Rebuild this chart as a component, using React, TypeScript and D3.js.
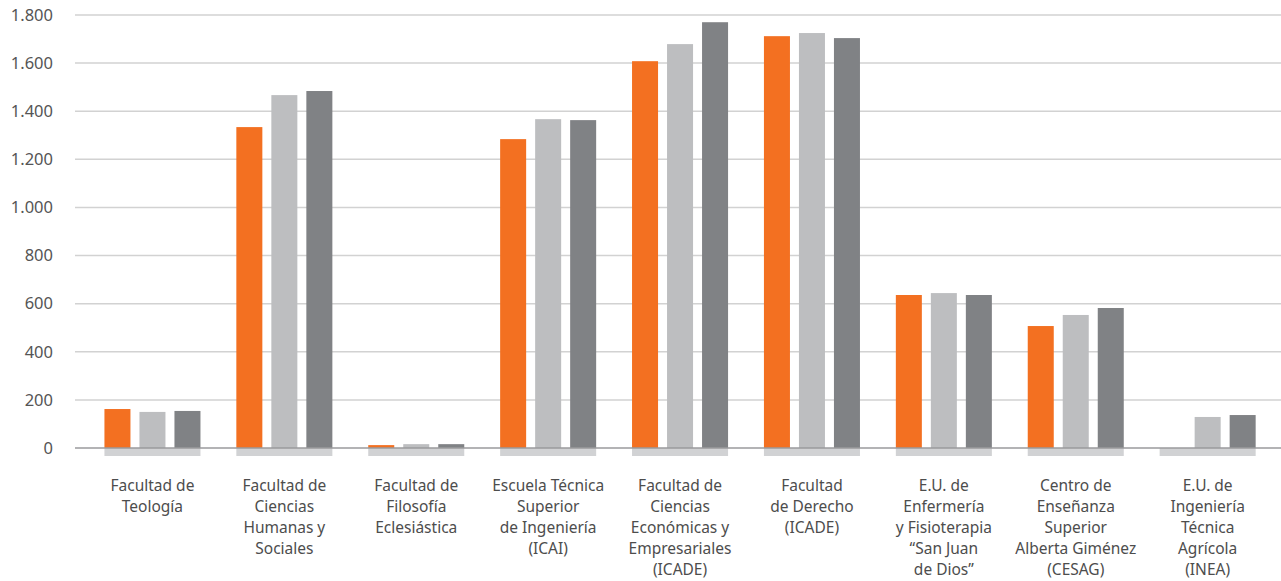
import { useEffect, useRef } from 'react';
import * as d3 from 'd3';

const categories = [
  ['Facultad de', 'Teología'],
  ['Facultad de', 'Ciencias', 'Humanas y', 'Sociales'],
  ['Facultad de', 'Filosofía', 'Eclesiástica'],
  ['Escuela Técnica', 'Superior', 'de Ingeniería', '(ICAI)'],
  ['Facultad de', 'Ciencias', 'Económicas y', 'Empresariales', '(ICADE)'],
  ['Facultad', 'de Derecho', '(ICADE)'],
  ['E.U. de', 'Enfermería', 'y Fisioterapia', '“San Juan', 'de Dios”'],
  ['Centro de', 'Enseñanza', 'Superior', 'Alberta Giménez', '(CESAG)'],
  ['E.U. de', 'Ingeniería', 'Técnica', 'Agrícola', '(INEA)'],
];

const series1 = [162, 1334, 12, 1284, 1608, 1712, 636, 507, 0];
const series2 = [150, 1467, 16, 1367, 1679, 1725, 644, 553, 129];
const series3 = [154, 1484, 16, 1363, 1770, 1704, 636, 582, 137];

const yTicks = [0, 200, 400, 600, 800, 1000, 1200, 1400, 1600, 1800];
const seriesColors = ['#f37021', '#bdbec0', '#808285'];

const App = () => {
  const svgRef = useRef<SVGSVGElement>(null);

  useEffect(() => {
    if (!svgRef.current) return;
    const svg = d3.select(svgRef.current);
    svg.selectAll('*').remove();

    const width = 1281;
    const height = 581;
    const font = '"Noto Sans", sans-serif';

    const y = d3.scaleLinear().domain([0, 1800]).range([448, 15]);
    const x = d3
      .scaleBand<number>()
      .domain(categories.map((_, i) => i))
      .range([86.5, 1273.6])
      .paddingInner(0.272)
      .paddingOuter(0.136);
    const inner = d3
      .scaleBand<number>()
      .domain([0, 1, 2])
      .range([0, x.bandwidth()])
      .paddingInner(0.257);

    // Grid lines
    svg
      .append('g')
      .selectAll('line')
      .data(yTicks.filter((t) => t > 0))
      .join('line')
      .attr('x1', 75)
      .attr('x2', width)
      .attr('y1', (d) => y(d))
      .attr('y2', (d) => y(d))
      .attr('stroke', '#d2d2d2')
      .attr('stroke-width', 1.5);

    // Tick labels
    svg
      .append('g')
      .selectAll('text')
      .data(yTicks)
      .join('text')
      .attr('x', 53)
      .attr('y', (d) => y(d))
      .attr('dy', '0.35em')
      .attr('text-anchor', 'end')
      .attr('font-family', font)
      .attr('font-size', 16.5)
      .attr('fill', '#555')
      .text((d) => d3.format(',')(d).replace(/,/g, '.'));

    // Gray bands under each group
    svg
      .append('g')
      .selectAll('rect')
      .data(categories.map((_, i) => i))
      .join('rect')
      .attr('x', (d) => x(d)!)
      .attr('y', y(0))
      .attr('width', x.bandwidth())
      .attr('height', 8)
      .attr('fill', '#d1d2d4');

    // Bars
    const allSeries = [series1, series2, series3];
    allSeries.forEach((values, s) => {
      svg
        .append('g')
        .selectAll('rect')
        .data(values)
        .join('rect')
        .attr('x', (_, i) => x(i)! + inner(s)!)
        .attr('y', (d) => y(d))
        .attr('width', inner.bandwidth())
        .attr('height', (d) => y(0) - y(d))
        .attr('fill', seriesColors[s]);
    });

    // Baseline
    svg
      .append('line')
      .attr('x1', 75)
      .attr('x2', width)
      .attr('y1', y(0))
      .attr('y2', y(0))
      .attr('stroke', '#9a9a9c')
      .attr('stroke-width', 1.5);

    // Category labels
    const labels = svg.append('g');
    categories.forEach((lines, i) => {
      const cx = x(i)! + x.bandwidth() / 2;
      const t = labels
        .append('text')
        .attr('x', cx)
        .attr('y', 491)
        .attr('text-anchor', 'middle')
        .attr('font-family', font)
        .attr('font-size', 15.5)
        .attr('fill', '#4d4d4d');
      lines.forEach((line, j) => {
        t.append('tspan')
          .attr('x', cx)
          .attr('dy', j === 0 ? 0 : 21.1)
          .text(line);
      });
    });

    svg.attr('width', width).attr('height', height);
  }, []);

  return (
    <div style={{ position: 'absolute', left: 0, top: 0 }}>
      <svg ref={svgRef} style={{ display: 'block' }} />
    </div>
  );
};

export default App;
